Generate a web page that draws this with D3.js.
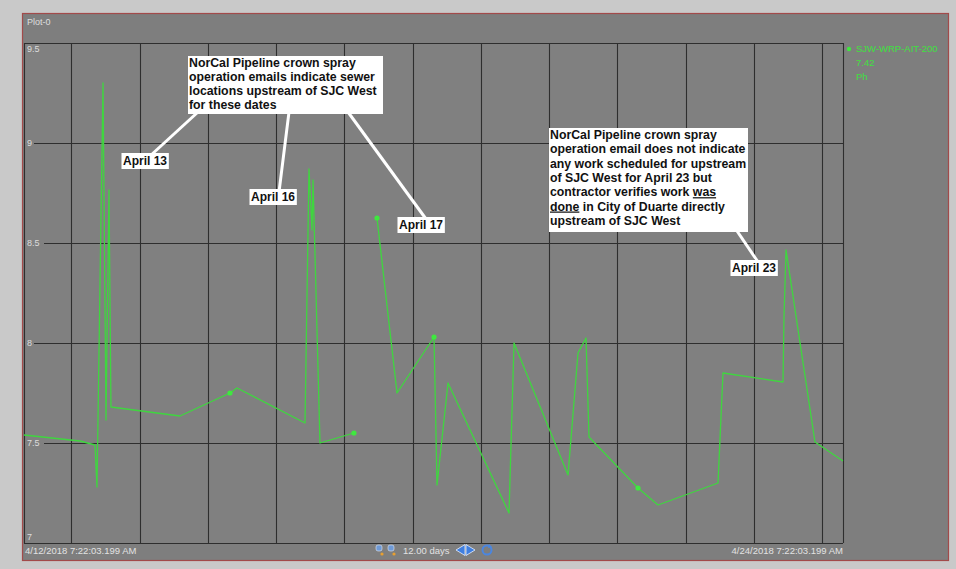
<!DOCTYPE html>
<html><head><meta charset="utf-8">
<script src="https://cdn.jsdelivr.net/npm/d3@7"></script>
<style>
html,body{margin:0;padding:0;background:#c9c9c9;}
svg{display:block;}
</style></head><body>
<svg id="c" width="956" height="569"></svg>
<script>
// ---------- data ----------
const times = [
  "2018-04-12 07:22","2018-04-13 03:03","2018-04-13 08:20","2018-04-13 09:02","2018-04-13 11:09",
  "2018-04-13 12:12","2018-04-13 13:15","2018-04-13 13:57","2018-04-14 14:13","2018-04-15 07:48",
  "2018-04-15 10:16","2018-04-16 10:11","2018-04-16 11:35","2018-04-16 12:39","2018-04-16 13:00",
  "2018-04-16 15:27","2018-04-17 03:24","2018-04-17 07:00","2018-04-17 11:30","2018-04-17 18:32",
  "2018-04-18 07:33","2018-04-18 08:36","2018-04-18 12:28","2018-04-19 09:55","2018-04-19 11:41",
  "2018-04-20 06:40","2018-04-20 10:11","2018-04-20 13:00","2018-04-20 14:03","2018-04-21 07:17",
  "2018-04-21 14:19","2018-04-22 11:25","2018-04-22 13:10","2018-04-23 10:16","2018-04-23 10:37",
  "2018-04-23 11:20","2018-04-23 21:31","2018-04-24 07:22"
];
const values = [
  7.54, 7.51, 7.49, 7.28, 9.30,
  7.615, 8.765, 7.68, 7.635, 7.75,
  7.775, 7.60, 8.87, 8.565, 8.815,
  7.50, 7.55, null, 8.625, 7.75,
  8.03, 7.29, 7.80, 7.15, 8.00,
  7.34, 7.95, 8.025, 7.53, 7.275,
  7.19, 7.30, 7.85, 7.805, 8.13,
  8.465, 7.505, 7.41
];
const markerIdx = [9, 16, 18, 20, 29];
const yTicks = [7, 7.5, 8, 8.5, 9, 9.5];
const yTickLabels = ["7", "7.5", "8", "8.5", "9", "9.5"];
const rangeStart = "2018-04-12 07:22";
const rangeEnd = "2018-04-24 07:22";
const startLabel = "4/12/2018 7:22:03.199 AM";
const endLabel = "4/24/2018 7:22:03.199 AM";
const spanLabel = "12.00 days";
const plotTitle = "Plot-0";
const legendName = "SJW-WRP-AIT-200";
const legendValue = "7.42";
const legendUnit = "Ph";
const noteA = ["NorCal Pipeline crown spray", "operation emails indicate sewer", "locations upstream of SJC West", "for these dates"];
const noteB = ["NorCal Pipeline crown spray", "operation email does not indicate", "any work scheduled for upstream", "of SJC West for April 23 but", "contractor verifies work |was |", "|done| in City of Duarte directly", "upstream of SJC West"];
const dateLabels = ["April 13", "April 16", "April 17", "April 23"];

// ---------- layout ----------
const svg = d3.select("#c");
const parse = d3.timeParse("%Y-%m-%d %H:%M");
const L = 24, R = 843, T = 43, B = 543;
const x = d3.scaleTime().domain([parse(rangeStart), parse(rangeEnd)]).range([L, R]);
const y = d3.scaleLinear().domain([7, 9.5]).range([B, T]);
const data = times.map((t, i) => ({t: parse(t), v: values[i]}));

// frame
svg.append("rect").attr("x", 0).attr("y", 0).attr("width", 956).attr("height", 569).attr("fill", "#c9c9c9");
svg.append("rect").attr("x", 22.5).attr("y", 13.5).attr("width", 926).attr("height", 547)
  .attr("fill", "#7e7e7e").attr("stroke", "#a24a4a").attr("stroke-width", 1.2);
svg.append("text").attr("x", 27).attr("y", 25).text(plotTitle)
  .attr("font-family", "Liberation Sans, Arial, sans-serif").attr("font-size", 9).attr("fill", "#dedede");

// plot area
svg.append("rect").attr("x", L).attr("y", T).attr("width", R - L).attr("height", B - T).attr("fill", "#808080");

const grid = svg.append("g").attr("stroke", "#2e2e2e").attr("stroke-width", 1.1);
d3.timeDay.range(x.domain()[0], x.domain()[1]).forEach(d => {
  if (+d <= +x.domain()[0]) return;
  grid.append("line").attr("x1", Math.round(x(d)) + 0.5).attr("x2", Math.round(x(d)) + 0.5).attr("y1", T).attr("y2", B);
});
yTicks.forEach(v => {
  grid.append("line").attr("x1", L).attr("x2", R).attr("y1", Math.round(y(v)) + 0.5).attr("y2", Math.round(y(v)) + 0.5);
});
grid.append("line").attr("x1", L + 0.5).attr("x2", L + 0.5).attr("y1", T).attr("y2", B);
grid.append("line").attr("x1", R + 0.5).attr("x2", R + 0.5).attr("y1", T).attr("y2", B);

// y tick labels
const yl = svg.append("g").attr("font-family", "Liberation Sans, Arial, sans-serif").attr("font-size", 9).attr("fill", "#dcdcdc");
yTicks.forEach((v, i) => {
  let yy = y(v), dy;
  if (v === 9.5) dy = 9;
  else if (v === 7) dy = -3;
  else {
    dy = 3;
    const w = yTickLabels[i].length * 5 + 4;
    yl.append("rect").attr("x", L + 1).attr("y", yy - 1).attr("width", w).attr("height", 2).attr("fill", "#808080");
  }
  yl.append("text").attr("x", L + 3).attr("y", yy + dy).text(yTickLabels[i]);
});

// series line
const line = d3.line().defined(d => d.v !== null).x(d => x(d.t)).y(d => y(d.v));
svg.append("path").datum(data).attr("d", line).attr("fill", "none")
  .attr("stroke", "#3fd63f").attr("stroke-width", 1.3).attr("stroke-linejoin", "round");
svg.append("g").selectAll("circle").data(markerIdx.map(i => data[i])).join("circle")
  .attr("cx", d => x(d.t)).attr("cy", d => y(d.v)).attr("r", 2.6).attr("fill", "#3fe83f");

// legend
svg.append("circle").attr("cx", 849).attr("cy", 49).attr("r", 2.2).attr("fill", "#3fe83f");
const lg = svg.append("g").attr("font-family", "Liberation Sans, Arial, sans-serif").attr("font-size", 9.5).attr("fill", "#3fe03f");
lg.append("text").attr("x", 856).attr("y", 52).text(legendName);
lg.append("text").attr("x", 856).attr("y", 66).text(legendValue);
lg.append("text").attr("x", 856).attr("y", 80).text(legendUnit);

// bottom bar labels
const bt = svg.append("g").attr("font-family", "Liberation Sans, Arial, sans-serif").attr("font-size", 9.5).attr("fill", "#e2e2e2");
bt.append("text").attr("x", 25).attr("y", 554).text(startLabel);
bt.append("text").attr("x", R).attr("y", 554).attr("text-anchor", "end").text(endLabel);
bt.append("text").attr("x", 403).attr("y", 554).text(spanLabel);
function zoomIcon(cx) {
  const g = svg.append("g");
  g.append("rect").attr("x", cx - 3).attr("y", 545).attr("width", 6).attr("height", 6).attr("rx", 2).attr("fill", "#6f9ad6").attr("stroke", "#dfe8f5").attr("stroke-width", 0.6);
  g.append("circle").attr("cx", cx + 3).attr("cy", 554).attr("r", 1.6).attr("fill", "#e8a030");
}
zoomIcon(379); zoomIcon(391);
svg.append("path").attr("d", "M456,550 L465,544.5 L465,555.5 Z").attr("fill", "#3f7fe0").attr("stroke", "#e8f0ff").attr("stroke-width", 0.8);
svg.append("path").attr("d", "M475,550 L466,544.5 L466,555.5 Z").attr("fill", "#3f7fe0").attr("stroke", "#e8f0ff").attr("stroke-width", 0.8);
svg.append("circle").attr("cx", 487).attr("cy", 550).attr("r", 4.5).attr("fill", "none").attr("stroke", "#4a86e0").attr("stroke-width", 2);
svg.append("path").attr("d", "M489,544 L492,547 L488,548 Z").attr("fill", "#4a86e0");

// ---------- annotations ----------
const ann = svg.append("g");
function leader(x1, y1, x2, y2) {
  ann.append("line").attr("x1", x1).attr("y1", y1).attr("x2", x2).attr("y2", y2)
    .attr("stroke", "#ffffff").attr("stroke-width", 3);
}
leader(198, 112, 150, 156);
leader(289, 112, 279, 192);
leader(348, 112, 426, 219);
leader(735, 228, 758, 262);

function noteBox(bx, by, bw, bh, lines, lh) {
  ann.append("rect").attr("x", bx).attr("y", by).attr("width", bw).attr("height", bh).attr("fill", "#ffffff");
  lines.forEach((s, i) => {
    const t = ann.append("text").attr("x", bx + 1).attr("y", by + 11 + i * lh)
      .attr("font-family", "Liberation Sans, Arial, sans-serif").attr("font-weight", "bold").attr("font-size", 12.3).attr("fill", "#111");
    const parts = s.split("|");
    parts.forEach((p, j) => {
      if (p === "") return;
      const ts = t.append("tspan").text(p);
      if (j % 2 === 1) ts.attr("text-decoration", "underline");
    });
  });
}
noteBox(188, 56, 195, 58, noteA, 14);
noteBox(549, 128, 199, 104, noteB, 14.3);

function dateTag(cx, cy, s) {
  const g = ann.append("g");
  const t = g.append("text").attr("x", cx).attr("y", cy + 4).attr("text-anchor", "middle")
    .attr("font-family", "Liberation Sans, Arial, sans-serif").attr("font-weight", "bold").attr("font-size", 12).attr("fill", "#111").text(s);
  const bb = t.node().getBBox();
  g.insert("rect", "text").attr("x", bb.x - 1.5).attr("y", cy - 8).attr("width", bb.width + 3).attr("height", 16).attr("fill", "#ffffff");
}
dateTag(145, 161, dateLabels[0]);
dateTag(273, 197, dateLabels[1]);
dateTag(421, 225, dateLabels[2]);
dateTag(754, 268, dateLabels[3]);
</script>
</body></html>
